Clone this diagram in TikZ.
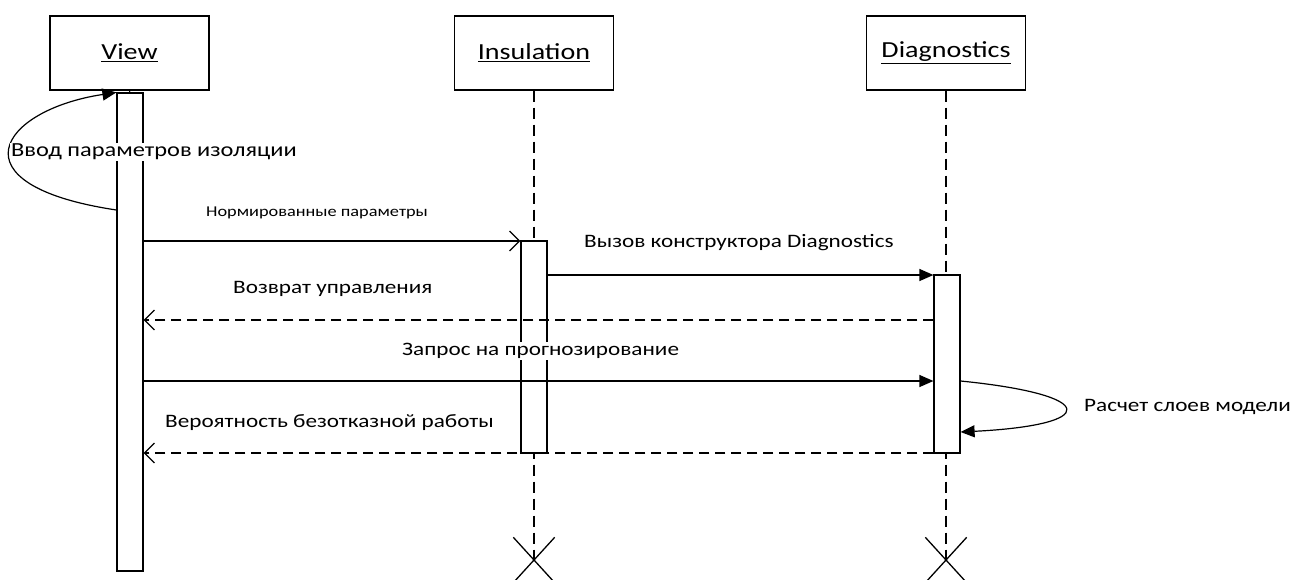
\documentclass[tikz,border=0pt]{standalone}
\usepackage{fontspec}
\setmainfont[FakeStretch=1.22]{Carlito}
\usetikzlibrary{arrows.meta,shapes.misc}
\begin{document}
\begin{tikzpicture}[x=1pt,y=-1pt,
  obj/.style={draw,line width=1.3pt,minimum width=159pt,minimum height=74pt,inner sep=0pt,font=\fontsize{23}{26}\selectfont},
  act/.style={draw,fill=white,line width=1.2pt,minimum width=26pt,inner sep=0pt},
  life/.style={line width=1.1pt,dash pattern=on 11pt off 6pt},
  msg/.style={line width=1.2pt,-{Triangle[length=14pt,width=12pt]}},
  call/.style={line width=1.2pt,-{Straight Barb[length=10pt,width=20pt]}},
  ret/.style={line width=1.2pt,dash pattern=on 10pt off 6pt,-{Straight Barb[length=10pt,width=20pt]}},
  lbl/.style={fill=white,inner sep=1pt,anchor=west,font=\fontsize{19}{23}\selectfont},
  xmark/.style={cross out,draw,line width=1.3pt,minimum width=40pt,minimum height=44pt,inner sep=0pt},
  ]
\useasboundingbox (0,0) rectangle (1296,579);
% objects
\node[obj] (view) at (129.5,53) {\underline{View}};
\node[obj] (ins) at (534,53) {\underline{Insulation}};
\node[obj] (diag) at (946,53) {\underline{Diagnostics}};
% destruction marks
\node[xmark] (ix) at (534,560) {};
\node[xmark] (dx) at (946,560) {};
% lifelines
\draw[life] (ins.south) -- (ix.center);
\draw[life] (diag.south) -- (dx.center);
\draw[line width=1.1pt] (view.south) -- (130,93);
% activation bars
\node[act,minimum height=478pt] (vbar) at (130,332) {};
\node[act,minimum height=212pt] (ibar) at (534,347) {};
\node[act,minimum height=178pt] (dbar) at (947,364) {};
% message levels
\coordinate (y0) at (0,210);
\coordinate (y1) at (0,241);
\coordinate (y2) at (0,275);
\coordinate (y3) at (0,320);
\coordinate (y4) at (0,381);
\coordinate (y5) at (0,432);
\coordinate (y6) at (0,453);
% messages
\draw[msg] (vbar.west |- y0) .. controls (-50,185) and (0,110) .. (vbar.north west);
\draw[call] (vbar.east |- y1) -- (ibar.west |- y1);
\draw[msg] (ibar.east |- y2) -- (dbar.west |- y2);
\draw[ret] (dbar.west |- y3) -- (vbar.east |- y3);
\draw[msg] (vbar.east |- y4) -- (dbar.west |- y4);
\draw[msg] (dbar.east |- y4) .. controls (1100,395) and (1100,425) .. (dbar.east |- y5);
\draw[ret] (dbar.west |- y6) -- (vbar.east |- y6);
% labels
\node[lbl,font=\fontsize{20}{24}\selectfont] (l0) at (10,152) {Ввод параметров изоляции};
\node[lbl,font=\fontsize{15}{18}\selectfont] (l1) at (205,213) {Нормированные параметры};
\node[lbl] (l2) at (583,243) {Вызов конструктора Diagnostics};
\node[lbl] (l3) at (232,289) {Возврат управления};
\node[lbl] (l4) at (401,351) {Запрос на прогнозирование};
\node[lbl] (l5) at (1083,407) {Расчет слоев модели};
\node[lbl] (l6) at (164,423) {Вероятность безотказной работы};
\end{tikzpicture}
\end{document}
